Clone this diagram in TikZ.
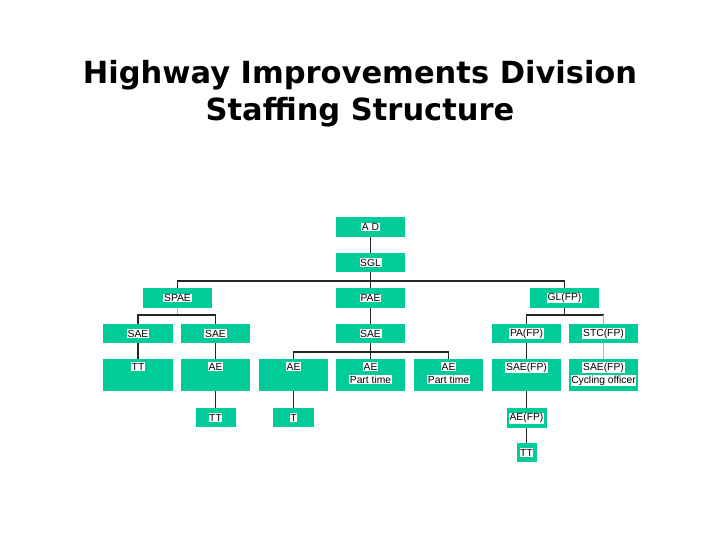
\documentclass[tikz,border=0pt]{standalone}
\usepackage{fontspec}
\setmainfont{Liberation Sans}
\newfontfamily\titlefont{DejaVu Sans}
\definecolor{boxgreen}{RGB}{0,204,153}
\newcommand\wl[1]{{\setlength\fboxsep{0.7pt}\colorbox{white}{#1}}}
\newcommand\tallc[1]{\parbox[c][32pt][t]{69.5pt}{\centering\rule{0pt}{11pt}#1}}
\tikzset{
  box/.style={fill=boxgreen, inner sep=0pt, minimum width=69.5pt, minimum height=19.5pt,
    font=\fontsize{10.3}{13}\selectfont},
  tallbox/.style={box, minimum height=32pt},
  conn/.style={draw=black!85, line width=1.1pt},
  light/.style={draw=black!30, line width=1.1pt},
}
\begin{document}
\begin{tikzpicture}[x=1pt,y=-1pt]
\useasboundingbox (0,0) rectangle (720,540);
\node[font=\titlefont\bfseries\fontsize{30.5}{37}\selectfont, align=center, anchor=base] (title) at (360,121)
  {Highway Improvements Division\\Staffing Structure};
% row 1-3
\node[box] (ad) at (370.5,227) {\wl{A D}};
\node[box] (sgl) at (370.5,262.5) {\wl{SGL}};
\node[box] (spae) at (177.5,298) {\wl{SPAE}};
\node[box] (pae) at (370.5,298) {\wl{PAE}};
\node[box] (gl) at (564.5,298) {\wl{GL(FP)}};
% row 4
\node[box] (sae1) at (138,333.5) {\wl{SAE}};
\node[box] (sae2) at (215.5,333.5) {\wl{SAE}};
\node[box] (sae3) at (370.5,333.5) {\wl{SAE}};
\node[box] (pafp) at (526.5,333.5) {\wl{PA(FP)}};
\node[box] (stc) at (603.5,333.5) {\wl{STC(FP)}};
% row 5
\node[tallbox] (tt1) at (138,375) {\tallc{\wl{TT}}};
\node[tallbox] (ae1) at (215.5,375) {\tallc{\wl{AE}}};
\node[tallbox] (ae2) at (293.5,375) {\tallc{\wl{AE}}};
\node[tallbox] (aept1) at (370.5,375) {\tallc{\wl{AE}\\\wl{Part time}}};
\node[tallbox] (aept2) at (448.5,375) {\tallc{\wl{AE}\\\wl{Part time}}};
\node[tallbox] (saefp) at (526.5,375) {\tallc{\wl{SAE(FP)}}};
\node[tallbox] (saecy) at (603.5,375) {\tallc{\wl{SAE(FP)}\\\wl{Cycling officer}}};
% row 6-7
\node[box, minimum width=40pt] (tt2) at (215.5,417.5) {\wl{TT}};
\node[box, minimum width=41pt] (t) at (293.5,417.5) {\wl{T}};
\node[box, minimum width=40pt] (aefp) at (526.5,418) {\wl{AE(FP)}};
\node[box, minimum width=20pt, minimum height=19pt] (tt3) at (526.5,452.5) {\wl{TT}};
% buses
\coordinate (bus1) at (370.5,281);
\coordinate (bus2) at (177.5,315);
\coordinate (bus3) at (370.5,352);
\coordinate (bus4) at (564.5,315);
% connectors
\draw[conn] (ad) -- (sgl);
\draw[conn] (sgl) -- (pae);
\draw[conn] (spae.north) |- (bus1) -| (gl.north);
\draw[light] (spae.south) -- (bus2);
\draw[conn] (sae1.north) |- (bus2) -| (sae2.north);
\draw[conn] (pae) -- (sae3);
\draw[conn] (gl.south) -- (bus4);
\draw[conn] (pafp.north) |- (bus4) -- (stc.north |- bus4);
\draw[light] (stc.north |- bus4) -- (stc.north);
\draw[conn] (sae1) -- (tt1);
\draw[conn] (sae2) -- (ae1);
\draw[conn] (sae3) -- (aept1);
\draw[conn] (ae2.north) |- (bus3) -| (aept2.north);
\draw[conn] (pafp) -- (saefp);
\draw[light] (stc) -- (saecy);
\draw[conn] (ae1) -- (tt2);
\draw[conn] (ae2) -- (t);
\draw[conn] (saefp) -- (aefp);
\draw[conn] (aefp) -- (tt3);
\end{tikzpicture}
\end{document}
